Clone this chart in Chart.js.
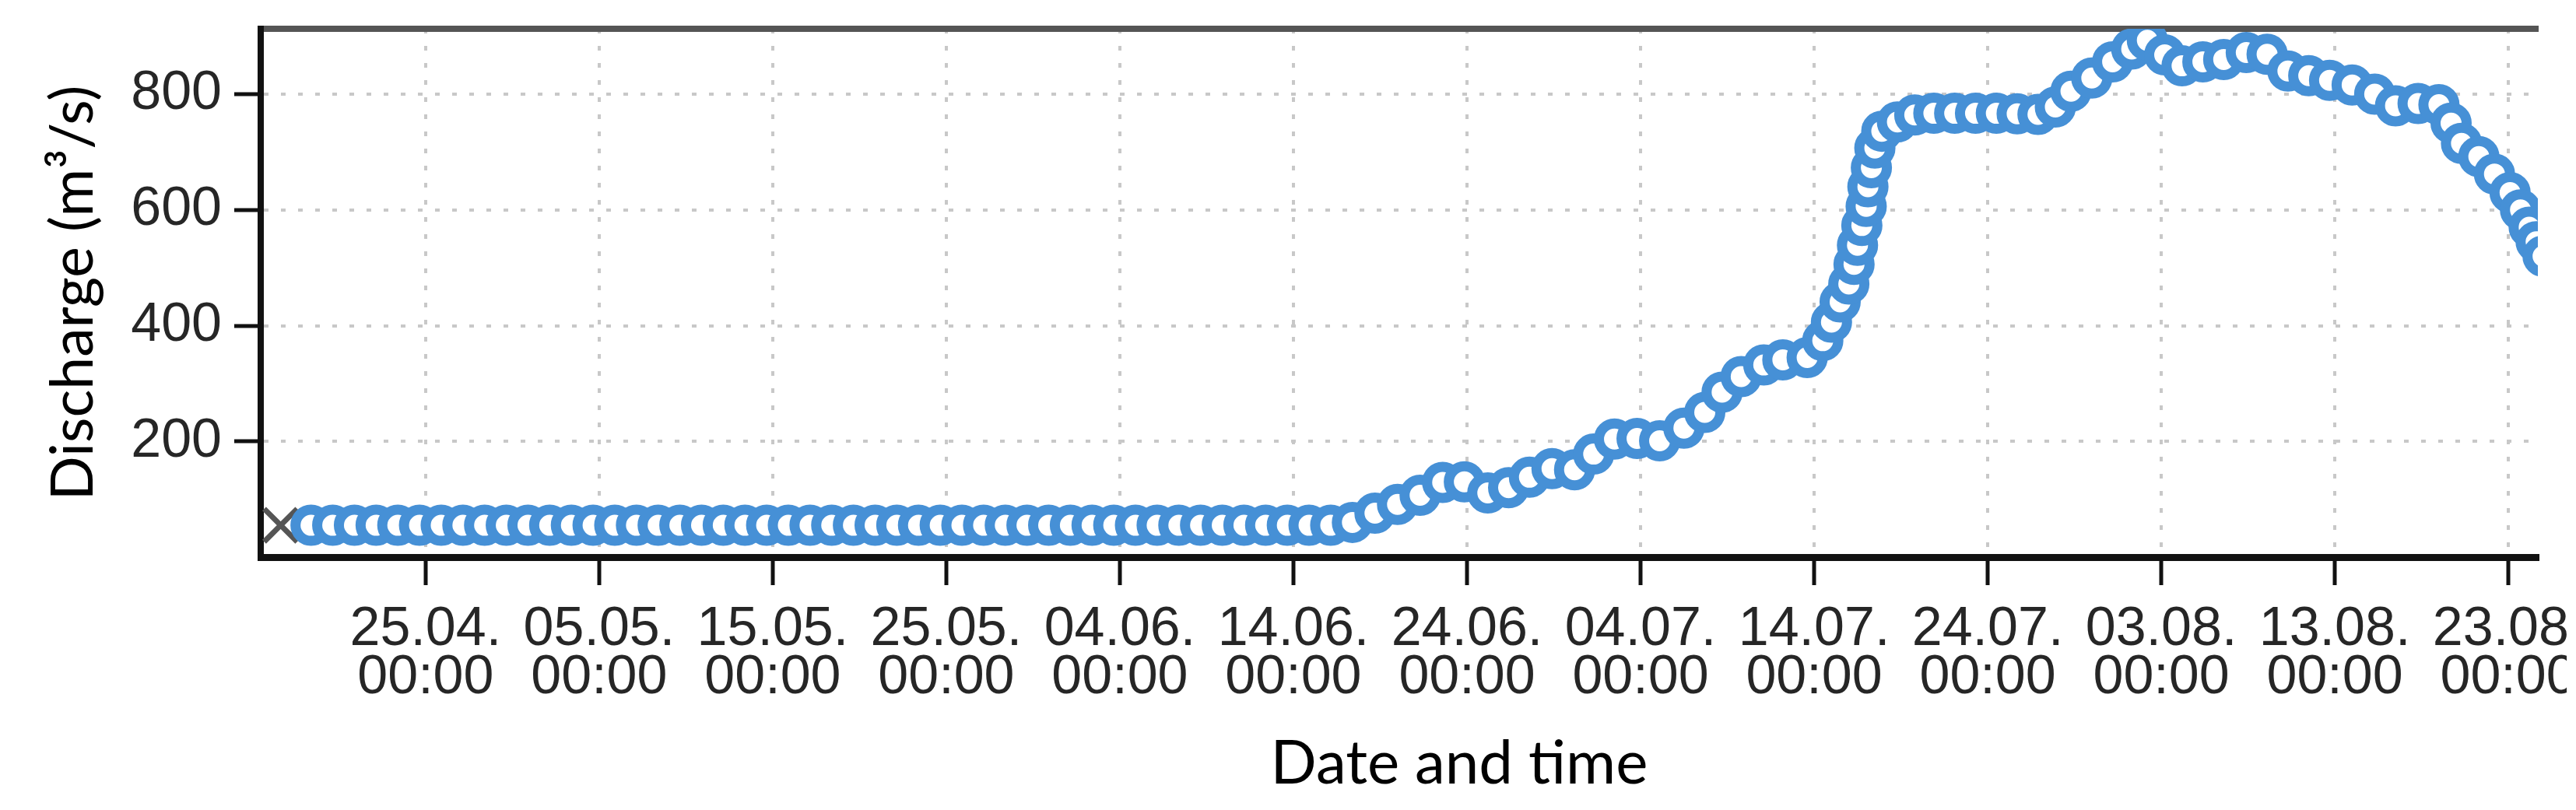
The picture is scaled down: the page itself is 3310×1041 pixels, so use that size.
<!DOCTYPE html>
<html>
<head>
<meta charset="utf-8">
<title>Discharge</title>
<script src="https://cdn.jsdelivr.net/npm/chart.js@4.4.1/dist/chart.umd.min.js"></script>
<style>
    html, body { margin: 0; padding: 0; background: #fff; }
    #wrap { width: 3310px; height: 1041px; background: #fff; }
</style>
</head>
<body>
<div id="wrap"><canvas id="chart" width="3298" height="1041"></canvas></div>
<script>
// x = days after 25.04. 00:00
const flatDays = [-6.6, -5.35, -4.1, -2.85, -1.6, -0.35, 0.9, 2.15, 3.4, 4.65, 5.9, 7.15, 8.4, 9.65, 10.9, 12.15,
    13.4, 14.65, 15.9, 17.15, 18.4, 19.65, 20.9, 22.15, 23.4, 24.65, 25.9, 27.15, 28.4, 29.65, 30.9, 32.15,
    33.4, 34.65, 35.9, 37.15, 38.4, 39.65, 40.9, 42.15, 43.4, 44.65, 45.9, 47.15, 48.4, 49.65, 50.9, 52.15];
const flatValues = [55, 55, 55, 55, 55, 55, 55, 55, 55, 55, 55, 55, 55, 55, 55, 55,
    55, 55, 55, 55, 55, 55, 55, 55, 55, 55, 55, 55, 55, 55, 55, 55,
    55, 55, 55, 55, 55, 55, 55, 55, 55, 55, 55, 55, 55, 55, 55, 55];

const riseDays = [53.4, 54.7, 56.0, 57.3, 58.6, 59.85, 61.2, 62.4, 63.6, 64.9, 66.2, 67.3, 68.5, 69.8, 71.1,
    72.5, 73.7, 74.7, 75.8, 77.1, 78.2, 79.6, 80.5, 81.0, 81.5, 82.0, 82.3, 82.5, 82.75, 83.0, 83.1, 83.3,
    83.5, 83.9, 84.8, 85.8, 86.9, 88.1, 89.3, 90.5, 91.7, 92.9, 93.9, 94.8, 96.0, 97.2, 98.3, 99.2, 100.2,
    101.2, 102.4, 103.6, 104.9, 106.1, 107.3, 108.5, 109.7, 111.0, 112.3, 113.5, 114.8, 116.0, 116.7, 117.3,
    118.3, 119.2, 120.1, 120.7, 121.2, 121.6, 122.0];
const riseValues = [60, 76, 91, 107, 129, 130, 111, 120, 138, 153, 151, 178, 204, 205, 201,
    223, 250, 285, 312, 332, 341, 345, 374, 406, 441, 472, 506, 539, 573, 606, 640, 673,
    707, 736, 752, 764, 767, 767, 767, 767, 766, 765, 778, 805, 828, 856, 878, 893, 868,
    849, 856, 860, 872, 869, 840, 832, 824, 816, 800, 780, 784, 782, 750, 715,
    692, 662, 630, 600, 570, 545, 520];

const startDays = [-8.35];
const startValues = [55];

const tickDays = [0, 10, 20, 30, 40, 50, 60, 70, 80, 90, 100, 110, 120];
const tickDates = ['25.04.', '05.05.', '15.05.', '25.05.', '04.06.', '14.06.', '24.06.',
    '04.07.', '14.07.', '24.07.', '03.08.', '13.08.', '23.08.'];
const tickTime = '00:00';
const yTicks = [200, 400, 600, 800];

const toPoints = (xs, ys) => xs.map((x, i) => ({ x: x, y: ys[i] }));
const dischargePoints = toPoints(flatDays.concat(riseDays), flatValues.concat(riseValues));

const blue = '#4690d6';
const tickFont = { family: "'Liberation Sans', Arial, sans-serif", size: 70, lineHeight: 0.88 };
const titleFont = { family: "Lato, 'Open Sans', sans-serif", size: 78, lineHeight: 1.2 };

/**
 * Draws the x axis title; the original is not centred on the visible plot
 * (the picture was cut off on the right).
 */
const xTitlePlugin = {
    id: 'xTitle',
    afterDraw(chart) {
        const c = chart.ctx;
        c.save();
        c.font = `${titleFont.size}px ${titleFont.family}`;
        c.fillStyle = '#000';
        c.textAlign = 'center';
        c.textBaseline = 'middle';
        c.fillText('Date and time', 1875, 982);
        c.restore();
    }
};

const ctx = document.getElementById('chart').getContext('2d');
new Chart(ctx, {
    type: 'scatter',
    data: {
        datasets: [{
            label: 'Discharge',
            data: dischargePoints,
            showLine: true,
            borderColor: blue,
            borderWidth: 4,
            pointRadius: 20,
            pointBorderWidth: 13,
            pointBackgroundColor: '#fff',
            pointBorderColor: blue,
            clip: { left: 40, top: 0, right: 0, bottom: 40 }
        }, {
            label: 'Start',
            data: toPoints(startDays, startValues),
            pointStyle: 'crossRot',
            pointRadius: 30,
            pointBorderWidth: 7,
            pointBorderColor: '#555',
            clip: { left: 40, top: 0, right: 0, bottom: 40 }
        }]
    },
    plugins: [xTitlePlugin],
    options: {
        responsive: false,
        animation: false,
        devicePixelRatio: 1,
        layout: { padding: { left: 0, right: 5, top: 0, bottom: 0 } },
        plugins: { legend: { display: false }, tooltip: { enabled: false } },
        scales: {
            x: {
                type: 'linear',
                position: 'bottom',
                min: -9.5,
                max: 121.7,
                afterBuildTicks: (scale) => { scale.ticks = tickDays.map(v => ({ value: v })); },
                afterFit: (scale) => { scale.height = 325; scale.paddingLeft = 0; scale.paddingRight = 0; },
                ticks: {
                    autoSkip: false,
                    maxRotation: 0,
                    padding: 27,
                    color: '#262626',
                    font: tickFont,
                    callback: (value) => [tickDates[tickDays.indexOf(value)], tickTime]
                },
                grid: { color: '#c8c8c8', lineWidth: 4, tickLength: 36, tickWidth: 5, tickColor: '#111' },
                border: { color: '#111', width: 9, dash: [6, 16] }
            },
            xTop: {
                type: 'linear',
                position: 'top',
                min: -9.5,
                max: 121.7,
                ticks: { display: false },
                grid: { display: false },
                border: { color: '#555', width: 8 },
                afterFit: (scale) => { scale.height = 34; scale.paddingLeft = 0; scale.paddingRight = 0; }
            },
            y: {
                min: 0,
                max: 913,
                afterBuildTicks: (scale) => { scale.ticks = yTicks.map(v => ({ value: v })); },
                afterFit: (scale) => { scale.width = 335; scale.paddingTop = 0; scale.paddingBottom = 0; },
                ticks: { padding: 16, color: '#262626', font: tickFont },
                grid: { color: '#c8c8c8', lineWidth: 4, tickLength: 34, tickWidth: 5, tickColor: '#111' },
                border: { color: '#111', width: 8, dash: [6, 16] },
                title: {
                    display: true,
                    text: 'Discharge (m³/s)',
                    color: '#000',
                    font: { family: titleFont.family, size: 75, lineHeight: 1.2 },
                    padding: { top: 50 }
                }
            }
        }
    }
});
</script>
</body>
</html>
